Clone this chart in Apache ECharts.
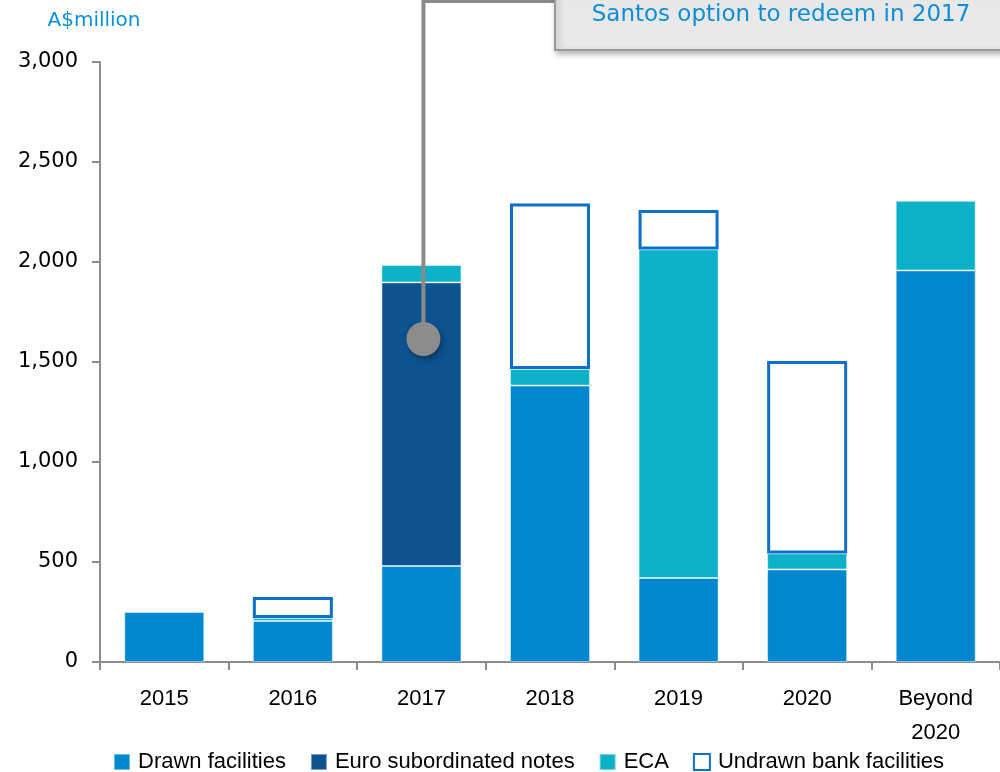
<!DOCTYPE html>
<html>
<head>
<meta charset="utf-8">
<script src="https://cdn.jsdelivr.net/npm/echarts@6/dist/echarts.min.js"></script>
<style>
  html, body { margin: 0; padding: 0; background: #fff; }
  #chart { width: 1000px; height: 772px; }
</style>
</head>
<body>
<div id="chart"></div>
<script>
const categories = ['2015', '2016', '2017', '2018', '2019', '2020', 'Beyond\n2020'];
const drawnFacilities = [250, 205, 480, 1382, 420, 463, 1958];
const euroNotes = [null, null, 1418, null, null, null, null];
const eca = [null, 15, 87, 83, 1643, 80, 348];
const undrawnBank = [null, 105, null, 828, 197, 962, null];
const yTicks = [0, 500, 1000, 1500, 2000, 2500, 3000];

const labelFont = '"Liberation Sans", Arial, sans-serif';
const wide = '"DejaVu Sans", Verdana, sans-serif';
const axisGray = '#8c8c8c';

const chart = echarts.init(document.getElementById('chart'));

const barStyle = function(color) {
  return { color: color, borderColor: 'rgba(255,255,255,0.45)', borderWidth: 1 };
};

chart.setOption({
  animation: false,
  grid: { left: 100, right: 0, top: 62, bottom: 110 },
  legend: {
    top: 746,
    left: 108,
    itemWidth: 16,
    itemHeight: 16,
    itemGap: 24,
    textStyle: { fontFamily: labelFont, fontSize: 22, color: '#000', padding: [0, 0, 0, 3] },
    data: [
      { name: 'Drawn facilities', icon: 'rect' },
      { name: 'Euro subordinated notes', icon: 'rect' },
      { name: 'ECA', icon: 'rect' },
      { name: 'Undrawn bank facilities', icon: 'rect', itemStyle: { color: '#fff', borderColor: '#0d70c8', borderWidth: 2 } }
    ]
  },
  xAxis: {
    type: 'category',
    data: categories,
    axisLine: { lineStyle: { color: axisGray, width: 2 } },
    axisTick: { show: true, length: 8, lineStyle: { color: axisGray, width: 2 } },
    axisLabel: { fontFamily: labelFont, fontSize: 22, color: '#000', margin: 20, lineHeight: 34 }
  },
  yAxis: {
    type: 'value',
    min: 0,
    max: 3000,
    interval: 500,
    name: 'A$million',
    nameLocation: 'end',
    nameGap: 31,
    nameTextStyle: { fontFamily: wide, fontSize: 20, color: '#0b8fd6', align: 'center', padding: [0, 12, 0, 0] },
    axisLine: { show: true, lineStyle: { color: axisGray, width: 2 } },
    axisTick: { show: true, length: 8, lineStyle: { color: axisGray, width: 2 } },
    splitLine: { show: false },
    axisLabel: {
      fontFamily: wide, fontSize: 21, color: '#000', margin: 22,
      formatter: function(v) { return yTicks.indexOf(v) >= 0 ? v.toLocaleString('en-US') : ''; }
    }
  },
  series: [
    { name: 'Drawn facilities', type: 'bar', stack: 'debt', barWidth: 80, data: drawnFacilities, itemStyle: barStyle('#0187cf') },
    { name: 'Euro subordinated notes', type: 'bar', stack: 'debt', data: euroNotes, itemStyle: barStyle('#0d538f') },
    { name: 'ECA', type: 'bar', stack: 'debt', data: eca, itemStyle: barStyle('#0bb0c9') },
    { name: 'Undrawn bank facilities', type: 'bar', stack: 'debt', data: undrawnBank,
      itemStyle: { color: '#fff', borderColor: '#0d70c8', borderWidth: 3 } }
  ]
});

// callout: dot on the 2017 euro notes bar, elbow line up to a grey box
const dot = chart.convertToPixel({ xAxisIndex: 0, yAxisIndex: 0 }, ['2017', 1615]);
const lineX = dot[0] + 2;
chart.setOption({
  graphic: [
    {
      type: 'polyline',
      z: 10,
      shape: { points: [[lineX, dot[1]], [lineX, 1], [560, 1]] },
      style: { stroke: '#8a8a8a', lineWidth: 4, fill: null }
    },
    {
      type: 'circle',
      z: 11,
      shape: { cx: lineX, cy: dot[1], r: 17 },
      style: { fill: '#8c8c8c', shadowBlur: 6, shadowOffsetX: 2, shadowOffsetY: 3, shadowColor: 'rgba(0,0,0,0.35)' }
    },
    {
      type: 'rect',
      z: 12,
      shape: { x: 555, y: -10, width: 460, height: 60 },
      style: { fill: '#e8e8e8', stroke: '#9a9a9a', lineWidth: 2, shadowBlur: 6, shadowOffsetX: 2, shadowOffsetY: 3, shadowColor: 'rgba(0,0,0,0.3)' }
    },
    {
      type: 'text',
      z: 13,
      x: 781,
      y: 15,
      style: { text: 'Santos option to redeem in 2017', fontFamily: wide, fontSize: 23, fill: '#0e8dd4', align: 'center', verticalAlign: 'middle' }
    }
  ]
});
</script>
</body>
</html>
